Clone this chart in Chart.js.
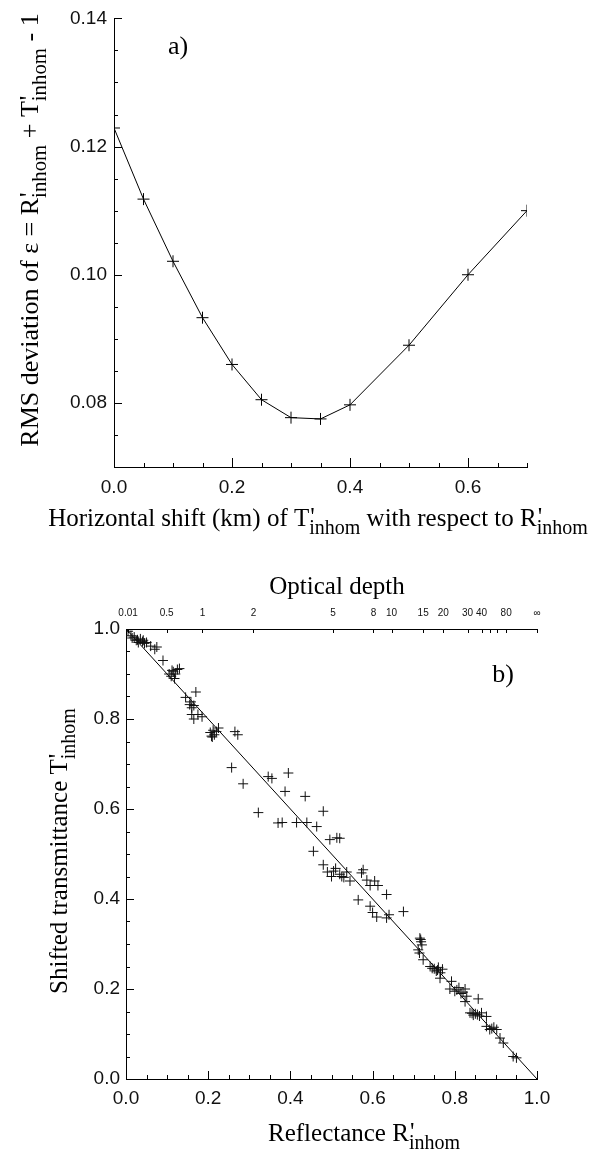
<!DOCTYPE html>
<html lang="en">
<head>
    <meta charset="UTF-8">
    <title>RMS deviation and shifted transmittance</title>
    <style>
        body { margin: 0; background: #fff; }
        canvas { position: absolute; left: 0; }
        #chartA { top: 0; }
        #chartB { top: 540px; }
    </style>
    <script src="https://cdn.jsdelivr.net/npm/chart.js"></script>
</head>
<body>
    <canvas id="chartA" width="598" height="540"></canvas>
    <canvas id="chartB" width="598" height="613"></canvas>

    <script>
        // panel a) - RMS deviation vs horizontal shift
        const shiftKm = [0, 0.05, 0.1, 0.15, 0.2, 0.25, 0.3, 0.35, 0.4, 0.5, 0.6, 0.7];
        const rmsDev = [0.1229, 0.1118, 0.1021, 0.0933, 0.0860, 0.0805, 0.0777, 0.0775, 0.0797, 0.0890, 0.1000, 0.1100];
        const xTicksA = [0, 0.2, 0.4, 0.6];
        const yTicksA = [0.08, 0.10, 0.12, 0.14];

        // panel b) - shifted transmittance vs reflectance
        const reflectance = [
            0.005, 0.012, 0.015, 0.025, 0.03, 0.035, 0.04, 0.045, 0.05, 0.06, 0.07, 0.075, 0.09,
            0.02, 0.028, 0.042,
            0.105, 0.11, 0.115, 0.12, 0.125, 0.13, 0.118, 0.112,
            0.145, 0.155, 0.16, 0.165, 0.17, 0.16, 0.165, 0.175, 0.185, 0.158,
            0.205, 0.21, 0.215, 0.22, 0.225, 0.212, 0.208,
            0.265, 0.272, 0.257, 0.285, 0.322,
            0.346, 0.355, 0.387, 0.395, 0.436,
            0.37, 0.38, 0.415, 0.44, 0.464, 0.48,
            0.456, 0.48, 0.49, 0.5, 0.496, 0.513, 0.52,
            0.51, 0.52, 0.53, 0.537, 0.545, 0.577, 0.573, 0.565, 0.505, 0.525,
            0.594, 0.605, 0.613, 0.634, 0.594, 0.6, 0.61, 0.634, 0.64, 0.675, 0.586,
            0.715, 0.718, 0.72, 0.711, 0.714, 0.723, 0.717,
            0.74, 0.75, 0.755, 0.76, 0.765, 0.77, 0.764, 0.792, 0.745, 0.758,
            0.788, 0.8, 0.81, 0.815, 0.825, 0.829, 0.857, 0.825, 0.805, 0.82,
            0.837, 0.845, 0.85, 0.86, 0.865, 0.877, 0.842, 0.855,
            0.877, 0.885, 0.895, 0.902, 0.91, 0.918, 0.942, 0.95, 0.89
        ];
        const transmittance = [
            0.995, 0.985, 0.98, 0.975, 0.97, 0.978, 0.972, 0.968, 0.97, 0.962, 0.955, 0.96, 0.93,
            0.982, 0.976, 0.975,
            0.9, 0.895, 0.905, 0.9, 0.91, 0.912, 0.89, 0.908,
            0.848, 0.832, 0.825, 0.83, 0.86, 0.81, 0.8, 0.81, 0.805, 0.838,
            0.77, 0.76, 0.765, 0.772, 0.78, 0.775, 0.762,
            0.772, 0.765, 0.692, 0.656, 0.592,
            0.672, 0.668, 0.639, 0.68, 0.628,
            0.569, 0.57, 0.57, 0.57, 0.561, 0.595,
            0.506, 0.476, 0.46, 0.45, 0.532, 0.536, 0.535,
            0.468, 0.455, 0.448, 0.46, 0.44, 0.465, 0.458, 0.398, 0.462, 0.45,
            0.43, 0.44, 0.43, 0.41, 0.384, 0.37, 0.36, 0.358, 0.365, 0.372, 0.442,
            0.313, 0.305, 0.298, 0.287, 0.28, 0.265, 0.31,
            0.25, 0.245, 0.24, 0.248, 0.236, 0.244, 0.224, 0.217, 0.246, 0.242,
            0.2, 0.195, 0.203, 0.19, 0.2, 0.184, 0.178, 0.172, 0.198, 0.193,
            0.147, 0.142, 0.145, 0.14, 0.147, 0.139, 0.146, 0.143,
            0.117, 0.11, 0.115, 0.11, 0.091, 0.08, 0.05, 0.047, 0.112
        ];
        const lineR = [0, 1];
        const lineT = [1, 0];
        const xTicksB = [0, 0.2, 0.4, 0.6, 0.8, 1.0];
        const yTicksB = [0, 0.2, 0.4, 0.6, 0.8, 1.0];

        // optical depth axis on top: label and its reflectance position
        const tauLabels = ['0.01', '0.5', '1', '2', '5', '8', '10', '15', '20', '30', '40', '80', '\u221e'];
        const tauPosR = [0.005, 0.099, 0.186, 0.31, 0.504, 0.602, 0.646, 0.723, 0.772, 0.831, 0.865, 0.925, 1.0];
        const tauExtraTicksR = [0.886, 0.903];

        const tickFont = { family: '"Liberation Sans", Arial, sans-serif', size: 19 };
        const serif = '"Liberation Serif", "Times New Roman", serif';

        // draw a title with primes and subscripts, centred on (x, y)
        // parts: [text, mode]  mode 0 normal, 1 prime (no advance), 2 subscript
        function drawRich(ctx, parts, x, y, size, angle) {
            const sub = size * 0.8;
            ctx.save();
            ctx.translate(x, y);
            ctx.rotate(angle);
            ctx.fillStyle = '#000';
            ctx.textBaseline = 'alphabetic';
            let total = 0;
            parts.forEach(([t, m]) => {
                if (m === 1) return;
                ctx.font = (m === 2 ? sub : size) + 'px ' + serif;
                total += ctx.measureText(t).width;
            });
            let cx = -total / 2;
            parts.forEach(([t, m]) => {
                if (m === 1) {
                    ctx.font = size + 'px ' + serif;
                    ctx.fillText(t, cx + 1, -size * 0.05);
                    return;
                }
                ctx.font = (m === 2 ? sub : size) + 'px ' + serif;
                ctx.fillText(t, cx, m === 2 ? size * 0.32 : 0);
                cx += ctx.measureText(t).width;
            });
            ctx.restore();
        }

        function textPlugin(items) {
            return {
                id: 'texts',
                afterDraw(chart) {
                    const ctx = chart.ctx;
                    items.forEach(it => {
                        if (it.parts) {
                            drawRich(ctx, it.parts, it.x, it.y, it.size, it.angle || 0);
                            return;
                        }
                        ctx.save();
                        ctx.font = it.size + 'px ' + serif;
                        ctx.fillStyle = '#000';
                        ctx.textAlign = 'center';
                        ctx.textBaseline = 'middle';
                        ctx.fillText(it.text, it.x, it.y);
                        ctx.restore();
                    });
                }
            };
        }

        // tick marks pointing into the plot
        function tickPlugin(axes) {
            return {
                id: 'inwardTicks',
                afterDatasetsDraw(chart) {
                    const ctx = chart.ctx;
                    ctx.save();
                    ctx.strokeStyle = '#000';
                    ctx.lineWidth = 1;
                    axes.forEach(a => {
                        const scale = chart.scales[a.id];
                        let vals = a.values;
                        if (!vals) {
                            vals = [];
                            const n = Math.round((scale.max - scale.min) / a.minor);
                            for (let k = 0; k <= n; k++) vals.push(scale.min + k * a.minor);
                        }
                        vals.forEach(v => {
                            const r = v / (a.major || 1);
                            const isMajor = a.major && Math.abs(r - Math.round(r)) < 1e-6;
                            const len = isMajor ? a.majorLen : a.minorLen;
                            const p = Math.round(scale.getPixelForValue(v)) + 0.5;
                            ctx.beginPath();
                            if (scale.position === 'left') {
                                ctx.moveTo(scale.right, p); ctx.lineTo(scale.right + len, p);
                            } else if (scale.position === 'bottom') {
                                ctx.moveTo(p, scale.top); ctx.lineTo(p, scale.top - len);
                            } else {
                                ctx.moveTo(p, scale.bottom); ctx.lineTo(p, scale.bottom + len);
                            }
                            ctx.stroke();
                        });
                    });
                    ctx.restore();
                }
            };
        }

        const setTicks = list => scale => { scale.ticks = list.map(v => ({ value: v })); };

        new Chart(document.getElementById('chartA'), {
            type: 'line',
            data: {
                datasets: [{
                    data: shiftKm.map((x, i) => ({ x: x, y: rmsDev[i] })),
                    borderColor: '#000',
                    borderWidth: 1,
                    pointStyle: 'cross',
                    pointRadius: 6,
                    pointBorderWidth: 1,
                    pointBorderColor: '#000',
                    tension: 0,
                    fill: false
                }]
            },
            options: {
                responsive: false,
                animation: false,
                layout: { padding: { top: 13, right: 71, left: 0, bottom: 0 } },
                plugins: { legend: { display: false }, tooltip: { enabled: false } },
                scales: {
                    x: {
                        type: 'linear', min: 0, max: 0.7,
                        afterBuildTicks: setTicks(xTicksA),
                        afterFit: s => { s.height = 73; },
                        grid: { display: false, drawTicks: false },
                        border: { color: '#000', width: 1 },
                        ticks: { padding: 9, color: '#111', font: tickFont, maxRotation: 0, callback: v => v.toFixed(1) }
                    },
                    y: {
                        type: 'linear', min: 0.07, max: 0.14,
                        afterBuildTicks: setTicks(yTicksA),
                        afterFit: s => { s.width = 114; },
                        grid: { display: false, drawTicks: false },
                        border: { color: '#000', width: 1 },
                        ticks: { padding: 7, color: '#111', font: tickFont, callback: v => v.toFixed(2) }
                    }
                }
            },
            plugins: [
                tickPlugin([
                    { id: 'x', minor: 0.05, major: 0.2, majorLen: 9, minorLen: 4 },
                    { id: 'y', minor: 0.005, major: 0.02, majorLen: 8, minorLen: 4 }
                ]),
                textPlugin([
                    { text: 'a)', x: 178, y: 47, size: 26 },
                    {
                        parts: [['Horizontal shift (km) of T', 0], ["'", 1], ['inhom', 2],
                                [' with respect to R', 0], ["'", 1], ['inhom', 2]],
                        x: 318, y: 526, size: 25
                    },
                    {
                        parts: [['RMS deviation of \u03b5 = R', 0], ["'", 1], ['inhom', 2],
                                [' + T', 0], ["'", 1], ['inhom', 2], [' - 1', 0]],
                        x: 38, y: 230, size: 26, angle: -Math.PI / 2
                    }
                ])
            ]
        });

        new Chart(document.getElementById('chartB'), {
            type: 'scatter',
            data: {
                datasets: [{
                    data: reflectance.map((r, i) => ({ x: r, y: transmittance[i] })),
                    pointStyle: 'cross',
                    pointRadius: 5,
                    pointBorderWidth: 1,
                    pointBorderColor: '#111',
                    showLine: false
                }, {
                    data: lineR.map((r, i) => ({ x: r, y: lineT[i] })),
                    showLine: true,
                    borderColor: '#000',
                    borderWidth: 1,
                    pointRadius: 0
                }]
            },
            options: {
                responsive: false,
                animation: false,
                layout: { padding: { top: 0, right: 61, left: 0, bottom: 0 } },
                plugins: { legend: { display: false }, tooltip: { enabled: false } },
                scales: {
                    x: {
                        type: 'linear', position: 'bottom', min: 0, max: 1,
                        afterBuildTicks: setTicks(xTicksB),
                        afterFit: s => { s.height = 74; },
                        grid: { display: false, drawTicks: false },
                        border: { color: '#000', width: 1 },
                        ticks: { padding: 8, color: '#111', font: tickFont, maxRotation: 0, callback: v => v.toFixed(1) }
                    },
                    tau: {
                        type: 'linear', position: 'top', axis: 'x', min: 0, max: 1,
                        afterBuildTicks: setTicks(tauPosR),
                        afterFit: s => { s.height = 89; },
                        grid: { display: false, drawTicks: false },
                        border: { color: '#000', width: 1 },
                        ticks: {
                            padding: 10, color: '#111', autoSkip: false, maxRotation: 0,
                            font: { family: tickFont.family, size: 10 },
                            callback: (v, i) => tauLabels[i]
                        }
                    },
                    y: {
                        type: 'linear', min: 0, max: 1,
                        afterBuildTicks: setTicks(yTicksB),
                        afterFit: s => { s.width = 126; },
                        grid: { display: false, drawTicks: false },
                        border: { color: '#000', width: 1 },
                        ticks: { padding: 6, color: '#111', font: tickFont, callback: v => v.toFixed(1) }
                    }
                }
            },
            plugins: [
                tickPlugin([
                    { id: 'x', minor: 0.05, major: 0.2, majorLen: 8, minorLen: 4 },
                    { id: 'y', minor: 0.05, major: 0.2, majorLen: 8, minorLen: 4 },
                    { id: 'tau', values: tauPosR.concat(tauExtraTicksR), majorLen: 4, minorLen: 4 }
                ]),
                textPlugin([
                    { text: 'Optical depth', x: 337, y: 47, size: 25 },
                    { text: 'b)', x: 503, y: 135, size: 26 },
                    {
                        parts: [['Reflectance R', 0], ["'", 1], ['inhom', 2]],
                        x: 364, y: 601, size: 25
                    },
                    {
                        parts: [['Shifted transmittance T', 0], ["'", 1], ['inhom', 2]],
                        x: 67, y: 311, size: 25, angle: -Math.PI / 2
                    }
                ])
            ]
        });
    </script>
</body>
</html>
